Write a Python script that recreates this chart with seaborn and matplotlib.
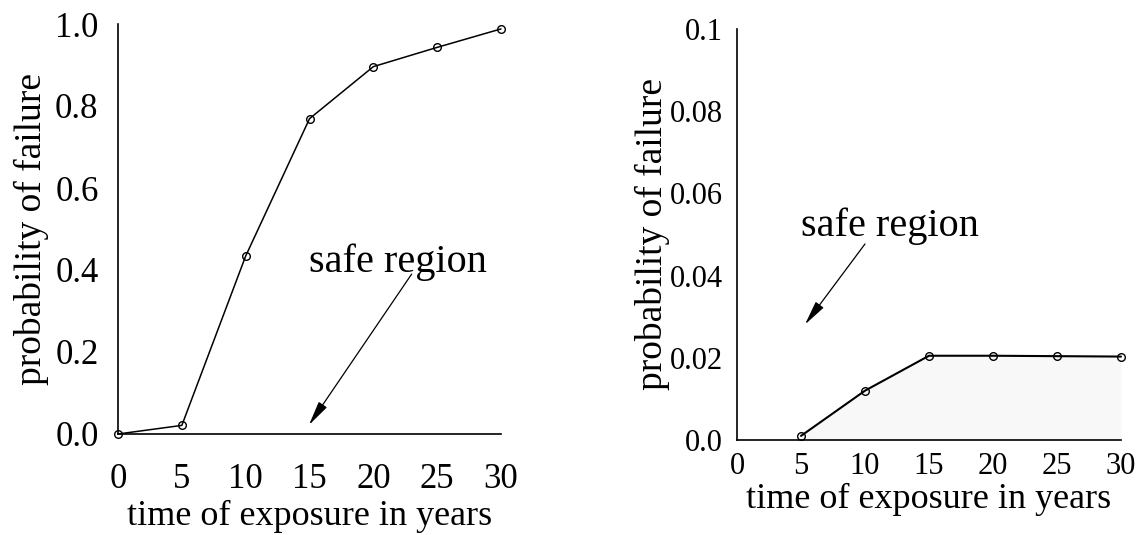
import matplotlib
matplotlib.use("Agg")
import matplotlib.pyplot as plt
import seaborn as sns
import pandas as pd

# ---- data ----
years_left = [0, 5, 10, 15, 20, 25, 30]
prob_left = [0.0, 0.021, 0.434, 0.769, 0.896, 0.943, 0.988]

years_right = [5, 10, 15, 20, 25, 30]
prob_right = [0.001, 0.012, 0.0205, 0.0205, 0.0204, 0.0203]

x_ticks = [0, 5, 10, 15, 20, 25, 30]
left_yticks = [0.0, 0.2, 0.4, 0.6, 0.8, 1.0]
left_yticklabels = ["0.0", "0.2", "0.4", "0.6", "0.8", "1.0"]
right_yticks = [0.0, 0.02, 0.04, 0.06, 0.08, 0.1]
right_yticklabels = ["0.0", "0.02", "0.04", "0.06", "0.08", "0.1"]

xlabel = "time of exposure in years"
ylabel = "probability of failure"
note = "safe region"

sns.set_theme(style="white")
plt.rcParams["font.family"] = ["Liberation Serif", "DejaVu Serif"]
plt.rcParams["axes.edgecolor"] = "black"
plt.rcParams["text.color"] = "black"
plt.rcParams["axes.labelcolor"] = "black"
plt.rcParams["xtick.color"] = "black"
plt.rcParams["ytick.color"] = "black"

fig = plt.figure(figsize=(11.37, 5.35), dpi=100)
axL = fig.add_axes([118 / 1137, (535 - 434) / 535, 383 / 1137, 410 / 535])
axR = fig.add_axes([737 / 1137, (535 - 440) / 535, 384 / 1137, 411 / 535])

dfL = pd.DataFrame({"t": years_left, "p": prob_left})
dfR = pd.DataFrame({"t": years_right, "p": prob_right})

line_kws = dict(color="black", marker="o", markersize=5.5,
                markerfacecolor="none", markeredgecolor="black",
                markeredgewidth=1.0)

sns.lineplot(data=dfL, x="t", y="p", ax=axL, linewidth=1.1, **line_kws)
sns.lineplot(data=dfR, x="t", y="p", ax=axR, linewidth=1.5, **line_kws)

# faint stippled "safe region" in right panel
axR.fill_between(dfR["t"], 0, dfR["p"], color="#f8f8f8", zorder=0, linewidth=0)

for ax in (axL, axR):
    for ln in ax.lines:
        ln.set_clip_on(False)
    sns.despine(ax=ax)
    ax.spines["left"].set_linewidth(1.2)
    ax.spines["bottom"].set_linewidth(1.2)
    ax.set_xlim(0, 30)
    ax.set_xticks(x_ticks)
    ax.set_xticklabels([str(v) for v in x_ticks])

arrow = dict(arrowstyle="-|>,head_width=0.3,head_length=1.5",
             color="black", lw=0.9, shrinkA=0, shrinkB=0, mutation_scale=10)

# left panel
axL.set_ylim(0, 1.0)
axL.set_yticks(left_yticks)
axL.set_yticklabels(left_yticklabels)
axL.tick_params(axis="y", direction="in", length=14, width=1.0, pad=14, labelsize=25)
axL.tick_params(axis="x", direction="out", length=7, width=1.0, pad=14, labelsize=25)
axL.set_xlabel(xlabel, fontsize=26, labelpad=3)
axL.set_ylabel(ylabel, fontsize=27, labelpad=4)
axL.text(21.9, 0.395, note, fontsize=29, ha="center", va="baseline")
axL.annotate("", xy=(14.96, 0.022), xytext=(23.0, 0.39), arrowprops=arrow)

# right panel
axR.set_ylim(0, 0.1)
axR.set_yticks(right_yticks)
axR.set_yticklabels(right_yticklabels)
axR.tick_params(axis="y", direction="in", length=2, width=0.8, pad=10, labelsize=22)
axR.tick_params(axis="x", direction="in", length=3, width=0.8, pad=9, labelsize=22)
axR.set_xlabel(xlabel, fontsize=26, labelpad=1)
axR.set_ylabel(ylabel, fontsize=27, labelpad=0)
axR.text(11.95, 0.0496, note, fontsize=29, ha="center", va="baseline")
axR.annotate("", xy=(5.31, 0.0281), xytext=(10.0, 0.0477), arrowprops=arrow)

fig.savefig("out.png", dpi=100)
